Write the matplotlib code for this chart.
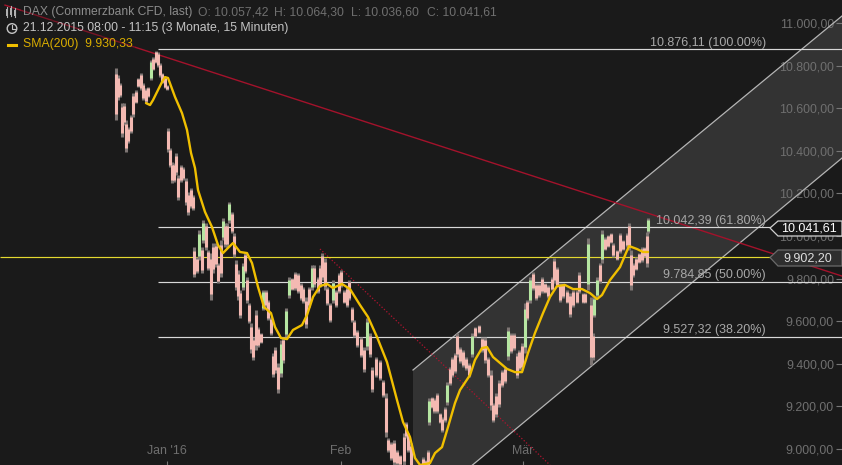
import numpy as np
import matplotlib
matplotlib.use("Agg")
import matplotlib.pyplot as plt
from matplotlib.patches import Polygon, Circle
from matplotlib.ticker import FuncFormatter

plt.rcParams['font.family'] = ['Liberation Sans', 'DejaVu Sans']

BG = "#1a1a1a"

# bar position (15 minute bars, thinned out), high and low
bar_pos = [116,118,120,122,124,126,128,131,133,136,138,141,143,146,148,151,153,156,158,160,162,165,167,
           168,170,172,174,176,178,181,183,186,188,191,193,194,197,199,202,203,206,208,211,213,216,218,221,223,225,227,229,
           232,234,236,238,240,243,245,247,249,251,253,256,258,261,263,266,268,271,273,275,278,281,283,286,289,292,295,298,
           301,303,306,309,312,314,318,320,322,325,327,330,333,336,339,341,344,347,349,352,354,357,361,364,367,370,372,376,
           380,383,386,388,391,394,397,400,404,406,408,411,423,426,428,429,432,434,437,440,442,445,447,450,452,455,457,460,
           463,466,469,472,475,479,482,485,488,491,493,496,499,502,505,508,511,514,517,519,522,525,527,530,533,536,539,542,
           545,548,552,554,557,560,563,567,570,573,577,579,583,585,588,591,593,594,597,600,602,605,608,611,613,617,620,623,
           627,629,631,633,636,639,642,644,647,648]
bar_high = [10789,10756,10718,10624,10624,10545,10512,10568,10671,10685,10742,10765,10718,10695,10700,10826,10840,10869,10864,10812,10765,10746,10709,
            10507,10413,10347,10343,10390,10286,10333,10324,10272,10207,10225,10192,9948,9901,10028,9948,10075,10061,9934,9920,9967,9967,9873,9981,10085,10061,10061,10160,
            10113,10014,9887,9840,9746,9873,9920,9807,9685,9592,9526,9653,9573,9545,9746,9746,9700,9620,9451,9479,9404,9512,9526,9662,9807,9803,9831,9826,
            9779,9761,9714,9761,9864,9864,9807,9864,9920,9897,9761,9685,9793,9746,9826,9840,9746,9761,9793,9667,9606,9559,9526,9479,9615,9545,9385,9432,
            9418,9324,9263,9052,9033,9042,8995,8972,9075,9127,9075,9028,8962,8948,8995,9239,9244,9239,9263,9169,9150,9197,9315,9385,9432,9451,9545,9479,
            9465,9432,9404,9545,9573,9582,9526,9526,9432,9371,9216,9263,9324,9371,9385,9573,9545,9545,9451,9465,9498,9685,9700,9807,9831,9779,9779,9807,
            9779,9770,9807,9897,9854,9779,9779,9746,9732,9746,9746,9831,9732,9732,9991,9714,9545,9714,9807,9873,10028,9995,10005,10014,9967,9934,10014,9981,
            10014,10061,9934,9873,9901,9920,9948,9948,10019,10085]
bar_low = [10545,10638,10653,10465,10521,10394,10437,10484,10559,10624,10700,10685,10638,10624,10653,10732,10779,10812,10793,10746,10718,10695,10685,
           10394,10324,10249,10254,10286,10169,10254,10263,10146,10099,10131,10122,9807,9826,9887,9826,9967,9934,9840,9700,9826,9854,9779,9807,9981,9948,9948,10061,
           10014,9901,9746,9700,9615,9746,9826,9685,9592,9451,9418,9465,9479,9498,9653,9667,9606,9535,9338,9357,9263,9338,9404,9526,9709,9746,9746,9732,
           9700,9685,9568,9667,9746,9761,9732,9761,9793,9746,9676,9596,9685,9667,9732,9761,9685,9667,9700,9596,9526,9479,9432,9361,9465,9432,9268,9338,
           9324,9244,9056,8986,8948,8925,8925,8925,8925,9052,8986,8901,8901,8901,8901,9113,9192,9169,9169,9122,9080,9127,9206,9300,9338,9357,9432,9404,
           9385,9371,9338,9432,9526,9545,9455,9404,9338,9183,9127,9150,9197,9291,9310,9418,9451,9465,9333,9371,9371,9451,9606,9685,9746,9700,9714,9732,
           9732,9709,9746,9779,9761,9690,9709,9685,9620,9667,9685,9732,9685,9685,9746,9394,9418,9620,9714,9779,9873,9934,9948,9967,9901,9887,9920,9934,
           9948,9934,9746,9807,9840,9873,9878,9901,9854,10014]

sma_pos = [146,150,153,157,162,165,168,171,175,182,187,191,195,198,205,212,218,223,228,233,240,247,252,258,264,271,275,281,287,293,302,307,313,
           320,327,333,342,350,360,368,377,387,397,403,410,415,420,430,435,442,448,455,460,470,475,482,487,493,500,507,515,522,528,535,543,550,557,
           565,573,582,590,597,602,610,620,629,637,643,648]
sma_val = [10624,10615,10638,10676,10723,10746,10742,10704,10653,10577,10498,10390,10319,10216,10113,10042,9958,9920,9944,9967,9925,9920,9873,9761,9667,9638,9573,9521,9516,9559,9582,9629,9714,
           9765,9775,9756,9775,9751,9676,9620,9526,9408,9230,9127,9056,8958,8925,8934,8981,9009,9103,9216,9277,9347,9418,9474,9479,9432,9404,9376,9361,9361,9451,9545,9638,9714,9765,
           9770,9751,9751,9732,9704,9723,9793,9854,9953,9939,9925,9925]

fib_levels = [10876.11, 10042.39, 9784.85, 9527.32]
fib_labels = ["10.876,11 (100.00%)", "10.042,39 (61.80%)", "9.784,85 (50.00%)", "9.527,32 (38.20%)"]
hline_level = 9902.20

# trendlines as (position, price) pairs
red_pos, red_val = [5, 842], [11084, 9812]
dot_pos, dot_val = [320, 550], [9939, 8925]
chan_pos = [413, 842]
chan_upper = [9371, 11033]
chan_lower = [8693, 10366]

y_ticks = [9000, 9200, 9400, 9600, 9800, 10000, 10200, 10400, 10600, 10800, 11000]
x_ticks = [167, 341, 523]
x_labels = ["Jan '16", "Feb", "Mär"]

fig = plt.figure(figsize=(8.42, 4.65), dpi=100, facecolor=BG)
ax = fig.add_axes([0, 0, 1, 1], facecolor=BG)
ax.set_xlim(0, 842)
ax.set_ylim(8925, 11108)
for s in ax.spines.values():
    s.set_visible(False)

# channel
ax.fill_between(chan_pos, chan_lower, chan_upper, color="#333333", lw=0, zorder=1)
ax.plot(chan_pos, chan_upper, color="#b5b5b5", lw=0.9, zorder=2)
ax.plot(chan_pos, chan_lower, color="#b5b5b5", lw=0.9, zorder=2)

# trendlines
ax.plot(red_pos, red_val, color="#a3122b", lw=1.0, zorder=2)
ax.plot(dot_pos, dot_val, color="#b0142f", lw=0.9, ls=(0, (1, 1.6)), zorder=2)

# fibonacci levels
for lvl, lab in zip(fib_levels, fib_labels):
    ax.hlines(lvl, 158, 842, color="#d8d8d8", lw=0.85, zorder=3)
    ax.annotate(lab, (766, lvl), xytext=(0, 0.3), textcoords="offset points", ha="right", va="bottom",
                color="#a8a8a8", fontsize=9.0, zorder=3)
ax.hlines(hline_level, 0, 842, color="#e4d930", lw=0.85, zorder=3)

# price bars
high = np.array(bar_high)
low = np.array(bar_low)
mid = (high + low) / 2
rise = np.diff(mid, prepend=mid[0])
colors = np.where(rise > 90, "#b6e6a2", "#f3b9b2")
ax.vlines(bar_pos, low, high, color="#7d7573", lw=2.2, zorder=4)
ax.vlines(bar_pos, low + (high - low) * 0.12, high - (high - low) * 0.12, colors=colors, lw=2.2, zorder=4)

# moving average
ax.plot(sma_pos, sma_val, color="#f0bf00", lw=1.7, zorder=5, solid_joinstyle="round", solid_capstyle="round")

# axes ticks sit inside the frame
ax.set_yticks(y_ticks)
ax.yaxis.tick_right()
ax.yaxis.set_major_formatter(FuncFormatter(lambda v, p: f"{v:,.2f}".replace(",", "X").replace(".", ",").replace("X", ".")))
ax.tick_params(axis="y", direction="in", length=4.3, width=0.8, color="#777777", labelcolor="#6f6f6f",
               labelsize=8.9, pad=-5.8)
for t in ax.get_yticklabels():
    t.set_ha("right")
ax.set_xticks(x_ticks)
ax.set_xticklabels(x_labels)
ax.tick_params(axis="x", direction="in", length=3, width=0.8, color="#777777", labelcolor="#6f6f6f",
               labelsize=8.9, pad=-6)
for t in ax.get_xticklabels():
    t.set_va("bottom")

# overlay in pixels for header and price tags
ov = fig.add_axes([0, 0, 1, 1], facecolor="none")
ov.set_xlim(0, 842)
ov.set_ylim(465, 0)
ov.axis("off")

box = dict(facecolor=BG, alpha=0.3, edgecolor="none", pad=1.5)
ov.text(23, 12.5, "DAX (Commerzbank CFD, last)", color="#8c8c8c", fontsize=8.75, va="center", bbox=box)
for tx, val in zip([198, 274, 351, 427], ["O: 10.057,42", "H: 10.064,30", "L: 10.036,60", "C: 10.041,61"]):
    ov.text(tx, 12.5, val, color="#6f6f6f", fontsize=8.75, va="center", bbox=box)
ov.text(23, 28.5, "21.12.2015 08:00 - 11:15 (3 Monate, 15 Minuten)", color="#c4c4c4", fontsize=8.8, va="center", bbox=box)
ov.text(23, 44.5, "SMA(200)  9.930,33", color="#d9ad00", fontsize=8.8, va="center", bbox=box)

# little icons
for ix, y0, y1 in [(7, 9, 16), (11, 8, 15), (15, 10, 16)]:
    ov.plot([ix, ix], [y0 - 2, y1 + 1], color="#b0b0b0", lw=0.8)
    ov.add_patch(plt.Rectangle((ix - 1, y0), 2, y1 - y0, fc="#b0b0b0", ec="none"))
ov.add_patch(Circle((12, 28.5), 4.8, fc="none", ec="#c4c4c4", lw=1))
ov.plot([12, 12, 15], [25.5, 29, 29], color="#c4c4c4", lw=0.8)
ov.plot([8, 16], [45, 45], color="#f0bf00", lw=2.2)

# price tags on the right
tag1 = [(770, 228), (778, 221), (842, 221), (842, 236), (778, 236)]
tag2 = [(770, 257.5), (778, 250), (842, 250), (842, 266), (778, 266)]
ov.add_patch(Polygon(tag1, closed=True, fc="#161616", ec="#d0d0d0", lw=0.9, zorder=6))
ov.add_patch(Polygon(tag2, closed=True, fc="#2e2e2e", ec="#6a6a6a", lw=0.9, zorder=6))
ov.text(837, 228.5, "10.041,61", color="#ffffff", fontsize=9.0, ha="right", va="center", zorder=7)
ov.text(832, 258, "9.902,20", color="#dedede", fontsize=9.0, ha="right", va="center", zorder=7)

fig.savefig("out.png", dpi=100, facecolor=BG)
